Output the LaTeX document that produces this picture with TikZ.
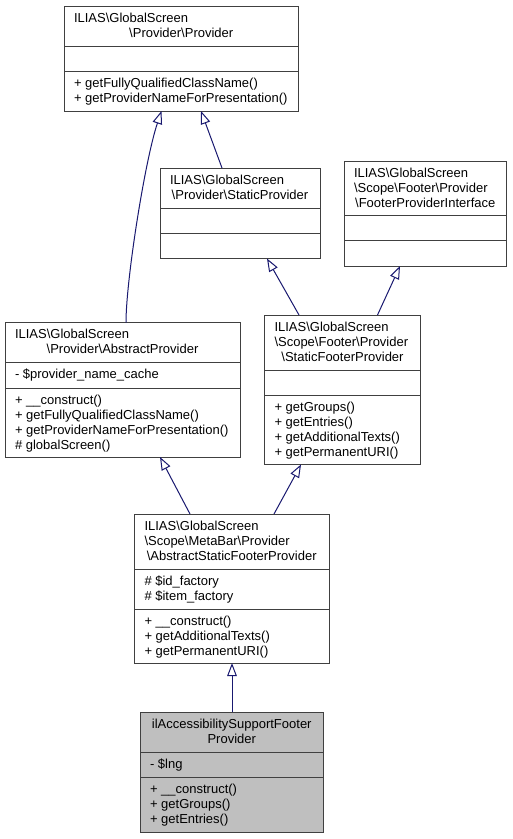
\documentclass[tikz,border=0pt]{standalone}
\usepackage{fontspec}
\setmainfont{Liberation Sans}
\usetikzlibrary{arrows.meta,calc}
\definecolor{edgeblue}{HTML}{191970}
\definecolor{boxgray}{HTML}{404040}
\definecolor{hlfill}{HTML}{BFBFBF}
\tikzset{
  umlbox/.style={draw=boxgray, line width=0.75pt, inner sep=0pt, outer sep=0pt, rectangle},
  sepline/.style={draw=boxgray, line width=0.75pt},
  txt/.style={inner sep=0pt, outer sep=0pt, font=\fontsize{9.75}{11.25}\selectfont, text=black},
  inh/.style={draw=edgeblue, line width=0.75pt, -{Triangle[open, length=9.75pt, width=7.2pt, line width=0.75pt]}}
}
\newcommand\umlBox[6]{%
  \node[umlbox, fill=#6, minimum width={(#4-#2)*0.75pt}, minimum height={(#5-#3)*0.75pt}] (#1) at ({(#2+#4)/2},{(#3+#5)/2}) {};}
\newcommand\umlSep[2]{\draw[sepline] ($(#1.north west)+(0,#2)$) -- ($(#1.north east)+(0,#2)$);}
\newcommand\umlL[4]{\node[txt, anchor=base west] (#1) at ($(#2.north west)+(10,#3)$) {#4};}
\newcommand\umlC[4]{\node[txt, anchor=base] (#1) at ($(#2.north)+(0,#3)$) {#4};}
\begin{document}
\begin{tikzpicture}[x=0.75pt, y=-0.75pt]
\useasboundingbox (0,0) rectangle (512,839);
\fill[white] (0,0) rectangle (512,839);

% Box 1: Provider
\umlBox{prov}{64}{6}{298.5}{111}{white}
\umlSep{prov}{40}
\umlSep{prov}{65}
\umlL{prov-t1}{prov}{16}{ILIAS\textbackslash GlobalScreen}
\umlC{prov-t2}{prov}{31}{\textbackslash Provider\textbackslash Provider}
\umlL{prov-m1}{prov}{81}{+ getFullyQualifiedClassName()}
\umlL{prov-m2}{prov}{96}{+ getProviderNameForPresentation()}

% Box 2: StaticProvider
\umlBox{stat}{160}{168}{320}{258.5}{white}
\umlSep{stat}{40.5}
\umlSep{stat}{65.5}
\umlL{stat-t1}{stat}{16}{ILIAS\textbackslash GlobalScreen}
\umlC{stat-t2}{stat}{31}{\textbackslash Provider\textbackslash StaticProvider}

% Box 3: FooterProviderInterface
\umlBox{fpi}{344}{161}{506.5}{266}{white}
\umlSep{fpi}{54.5}
\umlSep{fpi}{79.5}
\umlL{fpi-t1}{fpi}{16}{ILIAS\textbackslash GlobalScreen}
\umlL{fpi-t2}{fpi}{31}{\textbackslash Scope\textbackslash Footer\textbackslash Provider}
\umlC{fpi-t3}{fpi}{46}{\textbackslash FooterProviderInterface}

% Box 4: AbstractProvider
\umlBox{absp}{5}{322.5}{240}{457}{white}
\umlSep{absp}{40}
\umlSep{absp}{65.5}
\umlL{absp-t1}{absp}{16}{ILIAS\textbackslash GlobalScreen}
\umlC{absp-t2}{absp}{31}{\textbackslash Provider\textbackslash AbstractProvider}
\umlL{absp-a1}{absp}{56}{- \$provider\_name\_cache}
\umlL{absp-m1}{absp}{81.5}{+ \_\_construct()}
\umlL{absp-m2}{absp}{96.5}{+ getFullyQualifiedClassName()}
\umlL{absp-m3}{absp}{111.5}{+ getProviderNameForPresentation()}
\umlL{absp-m4}{absp}{126.5}{\# globalScreen()}

% Box 5: StaticFooterProvider
\umlBox{sfp}{264.5}{315}{420.5}{464.5}{white}
\umlSep{sfp}{55}
\umlSep{sfp}{80}
\umlL{sfp-t1}{sfp}{16}{ILIAS\textbackslash GlobalScreen}
\umlL{sfp-t2}{sfp}{31}{\textbackslash Scope\textbackslash Footer\textbackslash Provider}
\umlC{sfp-t3}{sfp}{46}{\textbackslash StaticFooterProvider}
\umlL{sfp-m1}{sfp}{96}{+ getGroups()}
\umlL{sfp-m2}{sfp}{111}{+ getEntries()}
\umlL{sfp-m3}{sfp}{126}{+ getAdditionalTexts()}
\umlL{sfp-m4}{sfp}{141}{+ getPermanentURI()}

% Box 6: AbstractStaticFooterProvider
\umlBox{asfp}{134.5}{514}{329}{663}{white}
\umlSep{asfp}{55}
\umlSep{asfp}{95}
\umlL{asfp-t1}{asfp}{16}{ILIAS\textbackslash GlobalScreen}
\umlL{asfp-t2}{asfp}{31}{\textbackslash Scope\textbackslash MetaBar\textbackslash Provider}
\umlC{asfp-t3}{asfp}{46}{\textbackslash AbstractStaticFooterProvider}
\umlL{asfp-a1}{asfp}{71}{\# \$id\_factory}
\umlL{asfp-a2}{asfp}{86}{\# \$item\_factory}
\umlL{asfp-m1}{asfp}{111}{+ \_\_construct()}
\umlL{asfp-m2}{asfp}{126}{+ getAdditionalTexts()}
\umlL{asfp-m3}{asfp}{141}{+ getPermanentURI()}

% Box 7: ilAccessibilitySupportFooterProvider
\umlBox{il}{140}{712}{323.5}{832}{hlfill}
\umlSep{il}{40}
\umlSep{il}{65}
\umlC{il-t1}{il}{16}{ilAccessibilitySupportFooter}
\umlC{il-t2}{il}{31}{Provider}
\umlL{il-a1}{il}{56}{- \$lng}
\umlL{il-m1}{il}{81}{+ \_\_construct()}
\umlL{il-m2}{il}{96}{+ getGroups()}
\umlL{il-m3}{il}{111}{+ getEntries()}

% Inheritance edges
\draw[inh] ($(absp.north west)+(121,0)$) .. controls (126,280) and (145,160) .. ($(prov.south west)+(97.5,0)$);
\draw[inh] ($(stat.north west)+(62,0)$) -- ($(prov.south west)+(137,0)$);
\draw[inh] ($(sfp.north west)+(34.5,0)$) -- ($(stat.south west)+(107,0)$);
\draw[inh] ($(sfp.north west)+(113,0)$) -- ($(fpi.south west)+(56,0)$);
\draw[inh] ($(asfp.north west)+(55.5,0)$) -- ($(absp.south west)+(155,0)$);
\draw[inh] ($(asfp.north west)+(139.5,0)$) -- ($(sfp.south west)+(36.5,0)$);
\draw[inh] ($(il.north west)+(92,0)$) -- ($(asfp.south west)+(97.5,0)$);
\end{tikzpicture}
\end{document}
